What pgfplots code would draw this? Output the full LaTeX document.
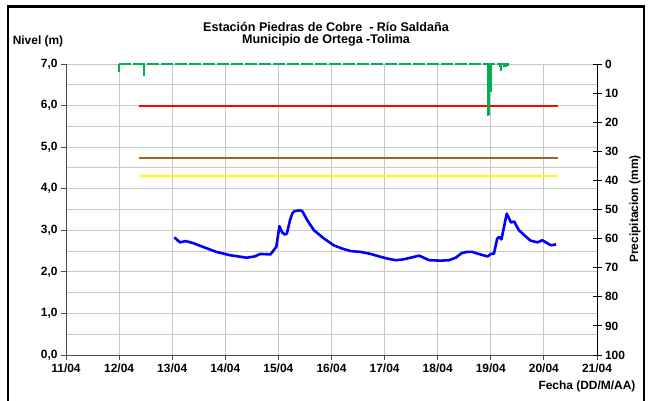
\documentclass[border=0pt]{standalone}
\usepackage{fontspec}
\setmainfont{Liberation Sans}
\usepackage{pgfplots}
\pgfplotsset{compat=1.18}
\definecolor{gridc}{RGB}{200,200,200}
\definecolor{xgreen}{rgb}{0,0.69,0.31}
\definecolor{xred}{rgb}{0.98,0.02,0.02}
\definecolor{xbrown}{rgb}{0.6,0.4,0.2}
\definecolor{xyellow}{rgb}{1,1,0}
\newcommand{\tf}{\bfseries\fontsize{12}{14}\selectfont}
\newcommand{\ttf}{\bfseries\fontsize{12.6}{14}\selectfont}
\begin{document}
\begin{tikzpicture}
\useasboundingbox (0,0) rectangle (648bp,401bp);
\fill[white] (0,0) rectangle (648bp,401bp);
\begin{axis}[
  at={(66bp,46bp)}, anchor=south west, scale only axis,
  width=531bp, height=291bp,
  xmin=11, xmax=21, ymin=0, ymax=7,
  xtick={11,12,13,14,15,16,17,18,19,20,21},
  xticklabels={11/04,12/04,13/04,14/04,15/04,16/04,17/04,18/04,19/04,20/04,21/04},
  ytick={0,1,2,3,4,5,6,7},
  minor ytick={0.5,1.5,2.5,3.5,4.5,5.5,6.5},
  grid=both,
  major grid style={gridc, line width=0.9bp},
  minor grid style={gridc, line width=0.9bp},
  axis x line*=bottom, axis y line*=left,
  axis line style={black!70, line width=0.9bp, -},
  tick style={black!70, line width=0.9bp},
  major tick length=5bp, minor tick length=0bp,
  tick align=outside,
  /pgf/number format/assume math mode=true,
  y tick label style={/pgf/number format/.cd, fixed, fixed zerofill, precision=1, use comma},
  tick label style={font=\tf},
]
\addplot[draw=blue, line width=2.6bp, line join=round] coordinates {
(13.04,2.83) (13.10,2.76) (13.15,2.71) (13.25,2.74) (13.40,2.69) (13.58,2.60)
(13.83,2.48) (14.09,2.40) (14.25,2.37) (14.40,2.34) (14.55,2.37) (14.66,2.43)
(14.85,2.42) (14.96,2.60) (15.02,3.10) (15.07,2.95) (15.12,2.90) (15.16,2.92)
(15.22,3.25) (15.26,3.40) (15.30,3.46) (15.40,3.48) (15.45,3.46) (15.54,3.25)
(15.67,3.00) (15.86,2.80) (16.04,2.64) (16.20,2.56) (16.36,2.50) (16.55,2.48)
(16.74,2.43) (16.90,2.37) (17.05,2.32) (17.21,2.28) (17.35,2.30) (17.49,2.34)
(17.65,2.39) (17.84,2.28) (18.06,2.27) (18.21,2.28) (18.34,2.34) (18.45,2.45)
(18.55,2.48) (18.65,2.48) (18.80,2.42) (18.94,2.37) (19.00,2.43) (19.06,2.44)
(19.12,2.80) (19.16,2.84) (19.20,2.78) (19.30,3.40) (19.38,3.19) (19.44,3.21)
(19.53,3.00) (19.65,2.86) (19.75,2.75) (19.88,2.71) (19.97,2.76) (20.05,2.70)
(20.13,2.64) (20.23,2.66)};
\addplot[draw=xyellow, line width=2.0bp] coordinates {(12.38,4.3) (20.26,4.3)};
\addplot[draw=xbrown, line width=2.0bp] coordinates {(12.38,4.75) (20.26,4.75)};
\addplot[draw=xred, line width=2.0bp] coordinates {(12.38,6.0) (20.26,6.0)};
\end{axis}
\begin{axis}[
  at={(66bp,46bp)}, anchor=south west, scale only axis,
  width=531bp, height=291bp,
  xmin=11, xmax=21, ymin=0, ymax=100, y dir=reverse,
  axis x line=none, axis y line*=right,
  ytick={0,10,20,30,40,50,60,70,80,90,100},
  axis line style={black, line width=0.9bp, -},
  tick style={black, line width=0.9bp},
  major tick length=9bp, tick align=center,
  /pgf/number format/assume math mode=true,
  y tick label style={font=\tf},
  clip=false,
]
\addplot[draw=xgreen, line width=2.6bp, dash pattern=on 12bp off 2bp] coordinates {(12.0,0) (19.35,0)};
\addplot[draw=xgreen, line width=2.0bp, ycomb] coordinates {
(12.00,2.6) (12.47,4.2) (18.955,17.9) (18.975,17.5) (19.005,9.7) (19.17,1.1) (19.20,2.4) (19.24,1.2) (19.28,1.0) (19.32,0.8)};
\end{axis}
\node[font=\ttf] at (326bp,374bp) {Estación Piedras de Cobre \ - Río Saldaña};
\node[font=\ttf] at (326bp,361bp) {Municipio de Ortega -Tolima};
\node[font=\tf] at (38bp,360bp) {Nivel (m)};
\node[font=\tf, anchor=east] at (639bp,15bp) {Fecha (DD/M/AA)};
\node[font=\tf, rotate=90] at (635bp,192bp) {Precipitacion (mm)};
\draw[line width=2.5bp] (7.8bp,-20bp) -- (7.8bp,394.7bp) -- (644bp,394.7bp) -- (644bp,-20bp);
\end{tikzpicture}
\end{document}
